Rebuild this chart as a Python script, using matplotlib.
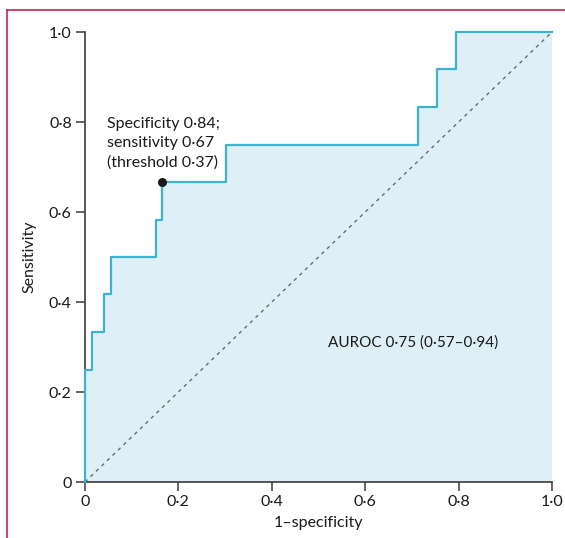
import matplotlib
matplotlib.use("Agg")
import matplotlib.pyplot as plt
from matplotlib.lines import Line2D

plt.rcParams['font.family'] = ['Lato', 'DejaVu Sans']

# ROC curve (step points, 1-specificity vs sensitivity)
fpr = [0, 0, 0.014, 0.041, 0.055, 0.151, 0.164, 0.301, 0.712, 0.753, 0.795, 1.0]
tpr = [0, 0.25, 0.333, 0.417, 0.5, 0.583, 0.667, 0.75, 0.833, 0.917, 1.0, 1.0]
cut_fpr = 0.164
cut_tpr = 0.667
ticks = [0, 0.2, 0.4, 0.6, 0.8, 1.0]
tick_labels = ['0', '0·2', '0·4', '0·6', '0·8', '1·0']

cut_text = 'Specificity 0·84;\nsensitivity 0·67\n(threshold 0·37)'
auc_text = 'AUROC 0·75 (0·57–0·94)'

curve_col = '#3bb3d1'
fill_col = '#dfeff7'
axis_col = '#3a3a3a'

fig = plt.figure(figsize=(5.65, 5.38), dpi=100)
ax = fig.add_axes([85/565, 56/538, 467/565, 450/538])

ax.fill_between(fpr, tpr, 0, step='post', color=fill_col, lw=0, zorder=1)
ax.plot([0, 1], [0, 1], color='#5f6f78', lw=1, ls=(0, (2.5, 3)), zorder=2)
ax.step(fpr, tpr, where='post', color=curve_col, lw=1.6, zorder=3, clip_on=False)
ax.plot([cut_fpr], [cut_tpr], 'o', color='#1a1a1a', ms=5.5, zorder=4)

ax.text(0.047, 0.812, cut_text, fontsize=11.5, va='top', ha='left',
        linespacing=1.5, color='#1a1a1a')
ax.text(0.52, 0.311, auc_text, fontsize=11, va='center', ha='left', color='#1a1a1a')

ax.set_xlim(0, 1)
ax.set_ylim(0, 1)
ax.set_xticks(ticks)
ax.set_xticklabels(tick_labels)
ax.set_yticks(ticks)
ax.set_yticklabels(tick_labels)
ax.tick_params(direction='out', length=6.5, width=1.1, colors=axis_col,
               labelsize=11.5, labelcolor='#1a1a1a', pad=3)
for s in ['top', 'right']:
    ax.spines[s].set_visible(False)
for s in ['left', 'bottom']:
    ax.spines[s].set_color(axis_col)
    ax.spines[s].set_linewidth(1.2)

ax.set_xlabel('1–specificity', fontsize=11.5, labelpad=5, color='#1a1a1a')
ax.set_ylabel('Sensitivity', fontsize=11.5, labelpad=9, color='#1a1a1a')

# Lancet style frame (left and top)
frame_col = '#c8234e'
fig.add_artist(Line2D([6.5/565, 6.5/565], [0, 1 - 10/538], color=frame_col, lw=1.2))
fig.add_artist(Line2D([6.5/565, 1], [1 - 10/538, 1 - 10/538], color=frame_col, lw=1.2))

fig.savefig('out.png', dpi=100)
